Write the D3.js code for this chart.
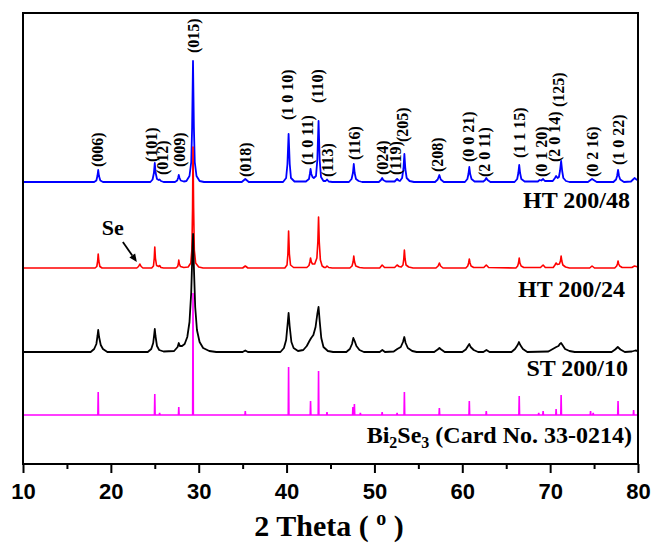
<!DOCTYPE html>
<html><head><meta charset="utf-8">
<script src="https://cdn.jsdelivr.net/npm/d3@7"></script>
<style>body{margin:0;background:#fff}svg{display:block}</style>
</head><body>
<svg id="chart" width="651" height="543"></svg>
<script>
// ---------- data ----------
const xTicks = [10, 20, 30, 40, 50, 60, 70, 80];
const xMinorTicks = [15, 25, 35, 45, 55, 65, 75];
const xTitle = "2 Theta ( ";
const xTitleSup = "o";
const seriesNames = ["HT 200/48", "HT 200/24", "ST 200/10", "Bi2Se3 (Card No. 33-0214)"];
const seriesColors = ["#0000ff", "#ff0000", "#000000", "#ff00ff"];
const seriesOffsets = [282, 196, 112, 49];

// HT 200/48 pattern: [2theta, intensity above its own baseline]
const ht48 = [[10,0],
 [18.1,0],[18.35,1.5],[18.47,6],[18.56,12],[18.65,6],[18.8,1.5],[19.1,0],
 [24.5,0],[24.75,2.5],[24.9,9],[25.0,19],[25.1,9],[25.25,3],[25.45,2],[25.55,2.5],[25.7,1],[26.0,0],
 [27.3,0],[27.55,1.5],[27.65,4],[27.73,7],[27.82,4],[27.95,1.5],[28.3,0.5],
 [28.6,1],[28.95,6],[29.15,20],[29.25,55],[29.35,121],[29.45,55],[29.55,20],[29.75,6],[30.1,1],[30.6,0],
 [34.9,0],[35.3,3],[35.7,0],
 [39.6,0],[39.95,4],[40.1,18],[40.23,48],[40.36,18],[40.5,4],[40.9,0.5],
 [42.2,0.5],[42.55,3],[42.65,8],[42.73,13],[42.82,8],[42.95,5],[43.1,4],
 [43.35,6],[43.5,22],[43.64,61],[43.77,22],[43.92,5],[44.2,1],
 [44.45,1],[44.6,2.5],[44.8,0.5],[45.2,0],
 [47.1,0],[47.4,3],[47.55,9],[47.65,18],[47.75,9],[47.9,3],[48.2,1],[48.6,0],
 [50.5,0],[50.75,2],[50.88,4],[51.0,2],[51.3,0.5],
 [52.3,0.5],[52.58,3],[52.75,1.5],
 [52.9,1],[53.15,4],[53.3,13],[53.41,28],[53.52,13],[53.67,4],[54.0,1],[54.5,0],
 [56.9,0],[57.2,2.5],[57.39,7],[57.55,2.5],[57.9,0],
 [60.3,0],[60.58,3],[60.7,8],[60.8,15],[60.9,8],[61.05,3],[61.4,0.5],
 [62.4,0.5],[62.6,2],[62.73,4],[62.88,2],[63.2,0],
 [65.95,0],[66.25,3],[66.38,9],[66.48,17],[66.58,9],[66.72,3],[67.1,0.5],
 [68.6,0.5],[68.8,2],[69.0,1.5],[69.2,3],[69.4,1],
 [70.3,1],[70.55,4],[70.68,6],[70.85,4],[71.0,5],[71.12,11],[71.25,21],[71.37,11],[71.5,4],[71.8,1],[72.2,0],
 [74.3,0],[74.6,2],[74.77,3],[74.95,2],[75.3,0],
 [77.2,0],[77.5,2.5],[77.62,6],[77.73,12],[77.84,6],[77.98,2.5],[78.4,0],
 [79.2,0.5],[79.5,3],[79.6,4],[79.75,3],[80,1.5]];

// HT 200/24 pattern
const ht24 = [[10,0],
 [18.2,0],[18.4,1.5],[18.5,7],[18.56,14],[18.63,7],[18.75,1.5],[19.0,0],
 [22.95,0],[23.15,1.5],[23.3,4],[23.45,1.5],[23.65,0],
 [24.65,0],[24.85,2],[24.94,10],[25.0,21],[25.07,10],[25.2,2.5],[25.45,1.5],[25.55,2.5],[25.7,0.5],[26.0,0],
 [27.4,0],[27.6,1.5],[27.68,4],[27.73,8],[27.8,4],[27.92,1.5],[28.3,0.5],
 [28.8,1],[29.1,5],[29.22,18],[29.3,60],[29.35,121],[29.42,60],[29.5,18],[29.65,5],[30.0,1],[30.5,0],
 [35.0,0],[35.3,2],[35.6,0],
 [39.8,0],[40.05,3],[40.15,14],[40.23,37],[40.32,14],[40.45,3],[40.8,0.5],
 [42.3,0.5],[42.55,2.5],[42.65,6],[42.73,10],[42.82,6],[42.95,4],[43.2,4],[43.45,10],[43.56,26],[43.64,51],[43.72,26],[43.85,8],[44.05,2],[44.3,0.5],
 [44.45,0.5],[44.6,2],[44.8,0.5],[45.2,0],
 [47.2,0],[47.45,2],[47.57,6],[47.65,12],[47.74,6],[47.88,2],[48.3,0.5],[48.8,0],
 [50.6,0],[50.88,3],[51.15,0.5],
 [52.3,0.5],[52.58,3],[52.8,1.5],
 [53.05,1],[53.25,3],[53.34,9],[53.41,18],[53.49,9],[53.6,3],[53.9,1],[54.4,0],
 [57.0,0],[57.25,2],[57.39,5],[57.53,2],[57.8,0],
 [60.4,0],[60.62,2],[60.72,5],[60.8,9],[60.88,5],[61.0,2],[61.3,0.5],
 [62.45,0.5],[62.73,3],[63.0,0.5],
 [66.1,0],[66.3,2],[66.4,5],[66.48,10],[66.56,5],[66.7,2],[67.0,0.5],
 [68.9,0.5],[69.2,3],[69.45,0.5],
 [70.35,0.5],[70.55,3],[70.68,5],[70.82,3.5],[71.05,4],[71.17,7],[71.25,12],[71.33,7],[71.45,3],[71.75,1],[72.2,0],
 [74.5,0],[74.77,2],[75.05,0],
 [77.35,0],[77.57,2],[77.66,4],[77.73,7],[77.8,4],[77.92,2],[78.2,0.5],
 [79.3,0.5],[79.6,2],[80,1]];

// ST 200/10 pattern
const st10 = [[10,0],
 [17.7,0],[18.1,3],[18.35,8],[18.48,16],[18.56,22],[18.66,15],[18.85,7],[19.1,3],[19.6,0],
 [24.2,0],[24.6,3],[24.82,9],[24.94,18],[25.0,23],[25.08,16],[25.25,6],[25.5,2],[26.0,0.5],
 [27.2,1],[27.6,5],[27.73,9],[27.85,6],[28.1,6],[28.4,8],[28.7,15],[28.95,30],[29.15,60],[29.3,105],[29.36,118],[29.45,85],[29.6,45],[29.8,22],[30.1,10],[30.5,4],[31.2,1],[32,0],
 [35.0,0],[35.3,1.5],[35.6,0],
 [39.3,0],[39.7,4],[39.95,12],[40.12,28],[40.23,39],[40.35,26],[40.55,10],[40.8,4],[41.3,1],
 [41.9,2],[42.3,6],[42.6,11],[42.8,14],[43.05,17],[43.3,25],[43.5,38],[43.64,45],[43.78,30],[43.95,14],[44.2,5],[44.7,1],[45.3,0],
 [46.8,0],[47.2,3],[47.45,8],[47.6,14],[47.75,11],[47.95,6],[48.3,2],[48.8,0],
 [50.6,0],[50.9,2],[51.2,0],
 [52.2,0.5],[52.6,3],[53.0,5],[53.25,10],[53.4,15],[53.55,9],[53.8,4],[54.3,1],[54.8,0],
 [56.8,0],[57.2,2.5],[57.4,4],[57.6,2.5],[58.0,0],
 [60.0,0],[60.4,2.5],[60.65,6],[60.8,8],[60.95,5],[61.3,2],[61.8,0],
 [62.4,0],[62.75,2],[63.1,0],
 [65.6,0],[66.0,3],[66.3,7],[66.45,10],[66.6,7],[66.9,3],[67.4,0],
 [69.8,0.5],[70.3,3],[70.7,5],[70.95,6],[71.1,8],[71.25,9],[71.4,7],[71.7,3],[72.2,1],[72.8,0],
 [77.0,0],[77.4,2.5],[77.7,5],[78.0,2.5],[78.5,0],
 [79.3,0.5],[79.7,1.5],[80,1]];

// Card No. 33-0214 reference lines: [2theta, intensity]
const cardSticks = [[18.56,23],[25.0,21],[25.55,2],[27.73,8],[29.35,122],[35.3,4],[40.23,48],[42.73,14],[43.64,44],[44.6,3],
 [47.55,8],[47.72,11],[48.4,2],[50.88,3],[52.58,2],[53.41,23],[57.39,7],[60.8,14],[62.73,4],[66.48,19],
 [68.7,2],[69.2,4],[70.68,6],[71.25,20],[74.6,4],[74.9,2],[77.73,14],[79.5,5]];

// (hkl) labels above HT 200/48
const peakLabels = ["(006)","(101)","(012)","(009)","(015)","(018)","(1 0 10)","(1 0 11)","(110)","(113)","(116)","(024)",
 "(119)","(205)","(208)","(0 0 21)","(2 0 11)","(1 1 15)","(0 1 20)","(2 0 14)","(125)","(0 2 16)","(1 0 22)"];
const peakLabelPos = [18.52,24.66,25.91,27.84,29.43,35.34,40.11,42.39,43.52,44.66,47.73,50.91,
 52.39,53.18,57.16,60.68,62.5,66.48,68.98,70.45,70.91,74.77,77.73];
const peakLabelBase = [15,20,7,15,129,5,62,17,79,5,22,7,7,40,10,20,5,24,5,20,75,5,17];

const seLabel = "Se";
const sePeak = [23.3, 4];

// ---------- drawing ----------
const svg = d3.select("#chart");
const W = 651, H = 543;
const x = d3.scaleLinear().domain([10, 80]).range([23, 638]);
const y = d3.scaleLinear().domain([0, 451]).range([464, 13]);
const serif = "'Liberation Serif','Times New Roman',Times,serif";
const sans = "'Liberation Sans',Arial,Helvetica,sans-serif";

svg.append("rect").attr("width", W).attr("height", H).attr("fill", "#fff");

const patterns = [ht48, ht24, st10];
const widths = [1.8, 1.6, 1.8];
patterns.forEach((data, i) => {
  const off = seriesOffsets[i];
  const line = d3.line().x(d => x(d[0])).y(d => y(d[1] + off));
  svg.append("path").datum(data).attr("d", line)
    .attr("fill", "none").attr("stroke", seriesColors[i])
    .attr("stroke-width", widths[i]).attr("stroke-linejoin", "round");
});

// stick pattern
{
  const off = seriesOffsets[3];
  const pts = [[10, 0]];
  cardSticks.forEach(s => { pts.push([s[0] - 0.04, 0], [s[0], s[1]], [s[0] + 0.04, 0]); });
  pts.push([80, 0]);
  const line = d3.line().x(d => x(d[0])).y(d => y(d[1] + off));
  svg.append("path").datum(pts).attr("d", line)
    .attr("fill", "none").attr("stroke", seriesColors[3]).attr("stroke-width", 1.6);
}

// frame
svg.append("rect").attr("x", 23).attr("y", 13).attr("width", 615).attr("height", 451)
  .attr("fill", "none").attr("stroke", "#000").attr("stroke-width", 2);

// axes
const ax = svg.append("g").attr("transform", "translate(0,464)")
  .call(d3.axisBottom(x).tickValues(xTicks).tickSize(9).tickPadding(10).tickFormat(d3.format("d")));
ax.select(".domain").remove();
ax.selectAll("line").attr("stroke", "#000").attr("stroke-width", 2);
ax.selectAll("text").attr("font-family", sans).attr("font-weight", "bold").attr("font-size", 22).attr("fill", "#000");
const axm = svg.append("g").attr("transform", "translate(0,464)")
  .call(d3.axisBottom(x).tickValues(xMinorTicks).tickSize(5).tickFormat(""));
axm.select(".domain").remove();
axm.selectAll("line").attr("stroke", "#000").attr("stroke-width", 2);

// axis title
const tt = svg.append("text").attr("x", 329).attr("y", 536).attr("text-anchor", "middle")
  .attr("font-family", serif).attr("font-weight", "bold").attr("font-size", 30).attr("fill", "#000");
tt.append("tspan").text(xTitle);
tt.append("tspan").attr("font-size", 20).attr("dy", -11).text(xTitleSup);
tt.append("tspan").attr("dy", 11).text(" )");

// hkl labels
peakLabels.forEach((t, i) => {
  svg.append("text")
    .attr("transform", `translate(${x(peakLabelPos[i])},${y(seriesOffsets[0] + peakLabelBase[i])}) rotate(-90)`)
    .attr("dominant-baseline", "central")
    .attr("font-family", serif).attr("font-weight", "bold").attr("font-size", 16).attr("fill", "#000")
    .text(t);
});

// series labels
const labelPos = [[630, 208], [625, 297], [628, 376], [632, 443]];
seriesNames.forEach((n, i) => {
  const t = svg.append("text").attr("x", labelPos[i][0]).attr("y", labelPos[i][1])
    .attr("text-anchor", "end").attr("font-family", serif).attr("font-weight", "bold")
    .attr("font-size", 24).attr("fill", "#000");
  if (i === 3) {
    t.append("tspan").text("Bi");
    t.append("tspan").attr("font-size", 16).attr("dy", 5).text("2");
    t.append("tspan").attr("dy", -5).text("Se");
    t.append("tspan").attr("font-size", 16).attr("dy", 5).text("3");
    t.append("tspan").attr("dy", -5).text(" (Card No. 33-0214)");
  } else {
    t.text(n);
  }
});

// Se annotation
{
  const tip = [x(sePeak[0]) - 3, y(seriesOffsets[1] + sePeak[1]) - 2];
  const tail = [tip[0] - 14, tip[1] - 20];
  const ang = Math.atan2(tip[1] - tail[1], tip[0] - tail[0]);
  const L = 8, Wd = 3.5;
  const bx = tip[0] - L * Math.cos(ang), by = tip[1] - L * Math.sin(ang);
  svg.append("line").attr("x1", tail[0]).attr("y1", tail[1]).attr("x2", bx).attr("y2", by)
    .attr("stroke", "#000").attr("stroke-width", 1.8);
  svg.append("path")
    .attr("d", `M${tip[0]},${tip[1]}L${bx - Wd * Math.sin(ang)},${by + Wd * Math.cos(ang)}L${bx + Wd * Math.sin(ang)},${by - Wd * Math.cos(ang)}Z`)
    .attr("fill", "#000");
  svg.append("text").attr("x", tail[0] + 1).attr("y", tail[1] - 7).attr("text-anchor", "end")
    .attr("font-family", serif).attr("font-weight", "bold").attr("font-size", 22).attr("fill", "#000")
    .text(seLabel);
}
</script>
</body></html>
